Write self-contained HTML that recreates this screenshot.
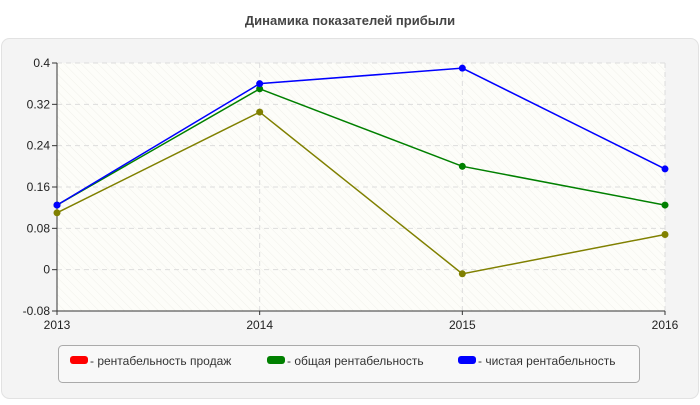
<!DOCTYPE html>
<html><head><meta charset="utf-8"><style>
body{margin:0;background:#fff;font-family:"Liberation Sans","DejaVu Sans",sans-serif;}
</style></head><body>
<svg width="700" height="400" viewBox="0 0 700 400" xmlns="http://www.w3.org/2000/svg">
<defs>
<pattern id="hatch" width="6" height="6" patternUnits="userSpaceOnUse" patternTransform="rotate(-45)">
<rect width="6" height="6" fill="#fdfdf9"/>
<line x1="0" y1="0" x2="0" y2="6" stroke="#f0f0ea" stroke-width="1"/>
</pattern>
</defs>
<text x="350" y="25" text-anchor="middle" font-size="13" font-weight="bold" fill="#444">Динамика показателей прибыли</text>
<rect x="1.5" y="38.5" width="697" height="360" rx="8" fill="#f4f4f4" stroke="#e2e2e2"/>
<g id="plot"></g>
<g>
<rect x="58.5" y="345.5" width="581" height="37" rx="4" fill="#f8f8f8" stroke="#aaa"/>
<g><rect x="70" y="356" width="18" height="8" rx="3" fill="#ff0000"/><text x="90" y="365" font-size="12" fill="#333">- рентабельность продаж</text></g>
<g><rect x="267" y="356" width="18" height="8" rx="3" fill="#008000"/><text x="287" y="365" font-size="12" fill="#333">- общая рентабельность</text></g>
<g><rect x="458" y="356" width="18" height="8" rx="3" fill="#0000ff"/><text x="478" y="365" font-size="12" fill="#333">- чистая рентабельность</text></g>
</g>
</svg>
<script>
const categories=["2013","2014","2015","2016"];
const salesValues=[0.11,0.305,-0.008,0.068];
const totalValues=[0.125,0.35,0.2,0.125];
const netValues=[0.125,0.36,0.39,0.195];
const yTicks=[-0.08,0,0.08,0.16,0.24,0.32,0.4];
const yTickLabels=["-0.08","0","0.08","0.16","0.24","0.32","0.4"];
const L=57,R=665,T=63,B=311,yMin=-0.08,yMax=0.4;
const NS="http://www.w3.org/2000/svg";
const g=document.getElementById('plot');
function X(i){return L+(R-L)*i/(categories.length-1);}
function Y(v){return B-(v-yMin)/(yMax-yMin)*(B-T);}
function el(t,a){const e=document.createElementNS(NS,t);for(const k in a)e.setAttribute(k,a[k]);g.appendChild(e);return e;}
const bg=el('rect',{x:L,y:T,width:R-L,height:B-T,fill:'url(#hatch)'});


yTicks.forEach((v,i)=>{
 if(i>0){const gl=el('line',{x1:L,x2:R,y1:Y(v),y2:Y(v),stroke:'#ddd','stroke-dasharray':'5,4'});
 
 }
 const tk=el('line',{x1:L-5,x2:L,y1:Y(v),y2:Y(v),stroke:'#333'});
 
 
 const t=el('text',{x:L-7,y:Y(v)+4,'text-anchor':'end','font-size':'12',fill:'#222'});t.textContent=yTickLabels[i];
 
 
});
categories.forEach((c,i)=>{
 if(i>0){const gl=el('line',{x1:X(i),x2:X(i),y1:T,y2:B,stroke:'#ddd','stroke-dasharray':'5,4'});
 
 }
 const tk=el('line',{x1:X(i),x2:X(i),y1:B,y2:B+4,stroke:'#333'});
 
 
 const t=el('text',{x:X(i),y:B+18,'text-anchor':'middle','font-size':'12',fill:'#222'});t.textContent=c;
 
 
});
const ya=el('line',{x1:L,x2:L,y1:T,y2:B,stroke:'#333'});


const xa=el('line',{x1:L,x2:R,y1:B,y2:B,stroke:'#333'});


[[salesValues,'#808000','sales'],[totalValues,'#008000','total'],[netValues,'#0000ff','net']].forEach(([vals,col,nm])=>{
 const p=el('polyline',{points:vals.map((v,i)=>X(i)+','+Y(v)).join(' '),fill:'none',stroke:col,'stroke-width':'1.5'});
 
 
 vals.forEach((v,i)=>{const c=el('circle',{cx:X(i),cy:Y(v),r:3.5,fill:col});
 
 });
});
</script>
</body></html>
